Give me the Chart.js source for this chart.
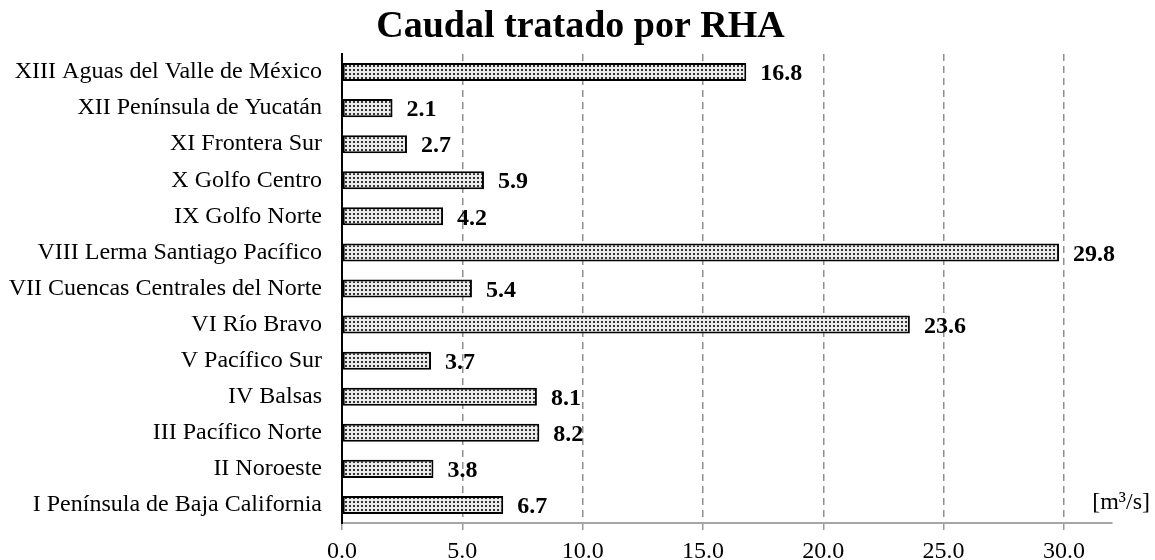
<!DOCTYPE html>
<html lang="es">
<head>
<meta charset="utf-8">
<title>Caudal tratado por RHA</title>
<script src="https://cdn.jsdelivr.net/npm/chart.js@4/dist/chart.umd.min.js"></script>
<style>
    html, body { margin: 0; padding: 0; background: #fff; }
    #contenedor { width: 1155px; height: 560px; }
</style>
</head>
<body>
<div id="contenedor"><canvas id="grafico-caudal"></canvas></div>
<script>
// Datos del gráfico
const regiones = [
    'XIII Aguas del Valle de México',
    'XII Península de Yucatán',
    'XI Frontera Sur',
    'X Golfo Centro',
    'IX Golfo Norte',
    'VIII Lerma Santiago Pacífico',
    'VII Cuencas Centrales del Norte',
    'VI Río Bravo',
    'V Pacífico Sur',
    'IV Balsas',
    'III Pacífico Norte',
    'II Noroeste',
    'I Península de Baja California'
];
const caudales = [16.8, 2.1, 2.7, 5.9, 4.2, 29.8, 5.4, 23.6, 3.7, 8.1, 8.2, 3.8, 6.7];
const marcasEje = [0, 5, 10, 15, 20, 25, 30];
const titulo = 'Caudal tratado por RHA';
const unidad = '[m³/s]';

const FUENTE = "'Liberation Serif', 'Times New Roman', serif";

// Trama punteada de las barras
const crearTrama = () => {
    const c = document.createElement('canvas');
    c.width = 4;
    c.height = 4;
    const g = c.getContext('2d');
    g.fillStyle = '#ebebeb';
    g.fillRect(0, 0, 4, 4);
    g.fillStyle = '#333333';
    g.fillRect(1, 1, 2, 2);
    return g.createPattern(c, 'repeat');
};

// Título centrado sobre todo el lienzo
const tituloLienzo = {
    id: 'tituloLienzo',
    afterDraw(chart) {
        const ctx = chart.ctx;
        ctx.save();
        ctx.font = `bold 38px ${FUENTE}`;
        ctx.fillStyle = '#000';
        ctx.textAlign = 'center';
        ctx.textBaseline = 'alphabetic';
        ctx.fillText(titulo, chart.width / 2 + 3, 37);
        ctx.restore();
    }
};

// Etiquetas de valor a la derecha de cada barra
const etiquetasValor = {
    id: 'etiquetasValor',
    afterDatasetsDraw(chart) {
        const ctx = chart.ctx;
        const meta = chart.getDatasetMeta(0);
        ctx.save();
        ctx.font = `bold 24px ${FUENTE}`;
        ctx.fillStyle = '#000';
        ctx.textAlign = 'left';
        ctx.textBaseline = 'middle';
        meta.data.forEach((barra, i) => {
            ctx.fillText(caudales[i].toFixed(1), barra.x + 14, barra.y + 2);
        });
        ctx.restore();
    }
};

// Unidad en la esquina inferior derecha
const etiquetaUnidad = {
    id: 'etiquetaUnidad',
    afterDraw(chart) {
        const ctx = chart.ctx;
        ctx.save();
        ctx.font = `24px ${FUENTE}`;
        ctx.fillStyle = '#000';
        ctx.textAlign = 'right';
        ctx.textBaseline = 'alphabetic';
        ctx.fillText(unidad, 1150, 509);
        ctx.restore();
    }
};

const ctx = document.getElementById('grafico-caudal').getContext('2d');

window.graficoCaudal = new Chart(ctx, {
    type: 'bar',
    data: {
        labels: regiones,
        datasets: [{
            data: caudales,
            backgroundColor: crearTrama(),
            borderColor: '#000',
            borderWidth: 2,
            borderSkipped: false,
            barPercentage: 0.5,
            categoryPercentage: 1
        }]
    },
    options: {
        indexAxis: 'y',
        responsive: true,
        maintainAspectRatio: false,
        animation: false,
        layout: {
            padding: { left: 0, right: 43, top: 54, bottom: 0 }
        },
        scales: {
            x: {
                min: 0,
                max: 32,
                afterBuildTicks: (escala) => {
                    escala.ticks = marcasEje.map(v => ({ value: v }));
                },
                afterFit: (escala) => {
                    escala.height = 37;
                },
                grid: {
                    color: (c) => (c.tick && c.tick.value === 0 ? 'rgba(0,0,0,0)' : '#8f8f8f'),
                    lineWidth: 1.5,
                    tickColor: '#9a9a9a',
                    tickLength: 7,
                    tickBorderDash: []
                },
                border: {
                    color: '#a6a6a6',
                    width: 2,
                    dash: [7, 5]
                },
                ticks: {
                    color: '#000',
                    font: { family: FUENTE, size: 24 },
                    padding: 7,
                    callback: (v) => Number(v).toFixed(1)
                }
            },
            y: {
                afterFit: (escala) => {
                    escala.width = 342;
                },
                grid: {
                    drawOnChartArea: false,
                    drawTicks: false
                },
                border: {
                    color: '#000',
                    width: 2
                },
                ticks: {
                    color: '#000',
                    font: { family: FUENTE, size: 24 },
                    padding: 20
                }
            }
        },
        plugins: {
            legend: { display: false },
            tooltip: { enabled: false },
            title: { display: false }
        }
    },
    plugins: [tituloLienzo, etiquetasValor, etiquetaUnidad]
});
</script>
</body>
</html>
